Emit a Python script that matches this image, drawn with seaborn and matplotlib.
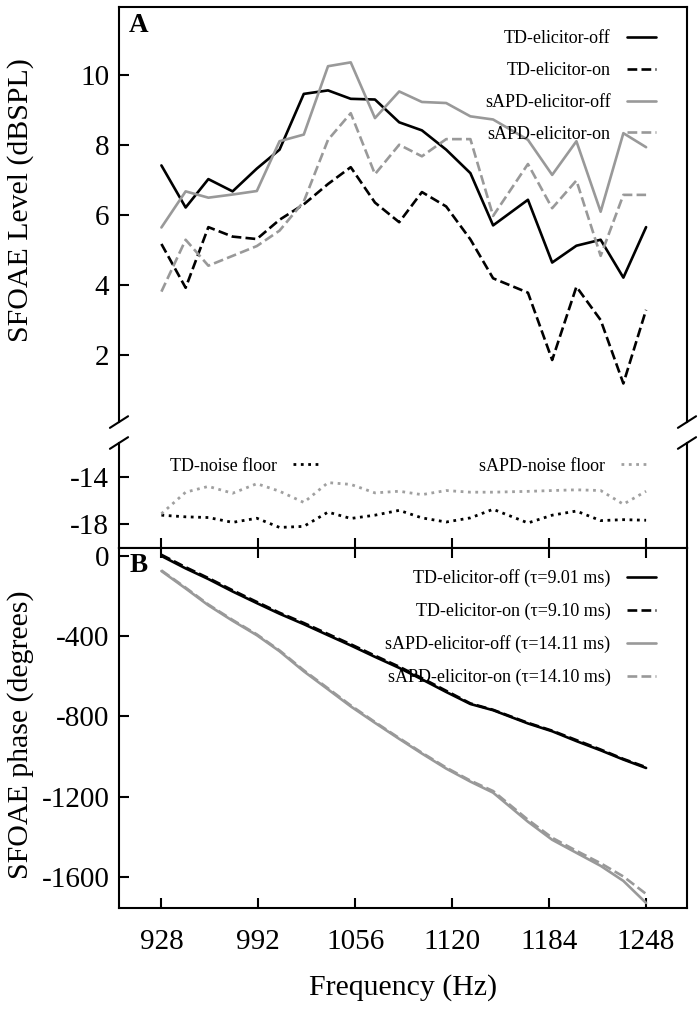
import numpy as np
import pandas as pd
import matplotlib
matplotlib.use('Agg')
import matplotlib.pyplot as plt
import seaborn as sns

# frequency of each measured point (Hz)
freq = [928, 944, 959, 975, 991, 1006, 1022, 1038, 1053, 1069, 1085,
        1100, 1116, 1132, 1147, 1170, 1186, 1202, 1218, 1233, 1248]

# panel A: SFOAE level (dB SPL)
td_off = [7.41, 6.21, 7.02, 6.67, 7.32, 7.86, 9.45, 9.55, 9.31, 9.29, 8.64,
          8.41, 7.86, 7.19, 5.70, 6.43, 4.64, 5.12, 5.29, 4.21, 5.65]
td_on = [5.17, 3.92, 5.65, 5.38, 5.31, 5.86, 6.30, 6.88, 7.36, 6.35, 5.79,
         6.65, 6.24, 5.30, 4.19, 3.78, 1.86, 3.95, 3.00, 1.19, 3.29]
sapd_off = [5.64, 6.67, 6.49, 6.58, 6.68, 8.10, 8.29, 10.24, 10.35, 8.76, 9.52,
            9.22, 9.19, 8.81, 8.72, 8.14, 7.14, 8.10, 6.09, 8.33, 7.93]
sapd_on = [3.81, 5.29, 4.55, 4.83, 5.11, 5.55, 6.38, 8.14, 8.90, 7.16, 8.00,
           7.67, 8.16, 8.16, 5.97, 7.45, 6.19, 6.98, 4.83, 6.57, 6.57]
td_noise = [-17.22, -17.36, -17.42, -17.83, -17.48, -18.26, -18.17, -16.96, -17.50, -17.22, -16.81,
            -17.45, -17.80, -17.45, -16.72, -17.88, -17.22, -16.87, -17.68, -17.60, -17.65]
sapd_noise = [-17.10, -15.27, -14.78, -15.36, -14.55, -15.19, -16.14, -14.46, -14.61, -15.33, -15.19,
              -15.48, -15.13, -15.27, -15.27, -15.20, -15.13, -15.07, -15.13, -16.29, -15.19]

# panel B: SFOAE phase (degrees)
td_off_ph = [0, -62, -115, -177, -235, -288, -340, -395, -446, -503, -558,
             -615, -678, -738, -769, -835, -874, -923, -969, -1015, -1057]
td_on_ph = [6, -56, -110, -171, -229, -283, -334, -389, -440, -497, -552,
            -609, -672, -735, -767, -832, -871, -918, -965, -1012, -1053]
sapd_off_ph = [-75, -162, -246, -323, -395, -475, -575, -665, -750, -832, -912,
               -985, -1060, -1125, -1180, -1325, -1415, -1480, -1545, -1620, -1730]
sapd_on_ph = [-72, -158, -242, -319, -391, -471, -570, -660, -745, -828, -908,
              -981, -1055, -1120, -1172, -1315, -1405, -1470, -1532, -1598, -1685]

xticks = [928, 992, 1056, 1120, 1184, 1248]

sns.set_style('ticks', {'axes.edgecolor': 'black', 'text.color': 'black',
                        'axes.labelcolor': 'black', 'xtick.color': 'black',
                        'ytick.color': 'black'})
plt.rcParams['font.family'] = ['Liberation Serif', 'DejaVu Serif']
plt.rcParams['axes.linewidth'] = 1.5
plt.rcParams['axes.unicode_minus'] = False

GRAY = '#999999'
LW = 1.9
TICK_FS = 21
LABEL_FS = 21.5
LEG_FS = 13

fig = plt.figure(figsize=(7, 10.17), dpi=100)
left, width = 0.170, 0.8114
ax_up = fig.add_axes([left, 0.585, width, 0.4085])
ax_lo = fig.add_axes([left, 0.4612, width, 0.1032])
ax_b = fig.add_axes([left, 0.1072, width, 0.354])

# ---- panel A, upper part
sns.lineplot(x=freq, y=td_off, ax=ax_up, color='black', lw=LW, label='TD-elicitor-off')
sns.lineplot(x=freq, y=td_on, ax=ax_up, color='black', lw=LW, ls='--', label='TD-elicitor-on')
sns.lineplot(x=freq, y=sapd_off, ax=ax_up, color=GRAY, lw=LW, label='sAPD-elicitor-off')
sns.lineplot(x=freq, y=sapd_on, ax=ax_up, color=GRAY, lw=LW, ls='--', label='sAPD-elicitor-on')
ax_up.set_ylim(0.09, 11.94)
ax_up.set_yticks([2, 4, 6, 8, 10])
ax_up.set_xticks([])
ax_up.spines['bottom'].set_visible(False)
ax_up.legend(loc='upper right', bbox_to_anchor=(0.945, 0.943), frameon=False,
             markerfirst=False, fontsize=LEG_FS, handlelength=1.6,
             handletextpad=0.9, labelspacing=0.82, borderaxespad=0, borderpad=0)
ax_up.text(0.018, 0.985, 'A', transform=ax_up.transAxes, fontsize=19.5,
           fontweight='bold', va='top', ha='left')
ax_up.set_ylabel('SFOAE Level (dBSPL)', fontsize=LABEL_FS)
ax_up.yaxis.set_label_coords(-0.15, 0.535)

# ---- panel A, lower part (noise floor)
sns.lineplot(x=freq, y=td_noise, ax=ax_lo, color='black', lw=2.0, ls=':', label='TD-noise floor')
sns.lineplot(x=freq, y=sapd_noise, ax=ax_lo, color='#a0a0a0', lw=2.0, ls=':', label='sAPD-noise floor')
ax_lo.set_ylim(-20.0, -11.1)
ax_lo.set_yticks([-14, -18])
ax_lo.spines['top'].set_visible(False)
h, l = ax_lo.get_legend_handles_labels()
leg1 = ax_lo.legend([h[0]], [l[0]], loc='upper left', bbox_to_anchor=(0.09, 0.86),
                    frameon=False, markerfirst=False, fontsize=LEG_FS, handlelength=1.6,
                    handletextpad=0.9, borderaxespad=0, borderpad=0)
ax_lo.add_artist(leg1)
ax_lo.legend([h[1]], [l[1]], loc='upper right', bbox_to_anchor=(0.935, 0.86),
             frameon=False, markerfirst=False, fontsize=LEG_FS, handlelength=1.6,
             handletextpad=0.9, borderaxespad=0, borderpad=0)

# broken axis marks
for ax, yb in [(ax_up, 0.0), (ax_lo, 1.0)]:
    dx = 0.016
    dy = 0.014 * (0.4085 / ax.get_position().height)
    for xb in (0.0, 1.0):
        ax.plot([xb - dx, xb + dx], [yb - dy, yb + dy], transform=ax.transAxes,
                color='black', lw=1.5, clip_on=False)

# ---- panel B, phase
sns.lineplot(x=freq, y=td_off_ph, ax=ax_b, color='black', lw=LW, label='TD-elicitor-off (\u03c4=9.01 ms)')
sns.lineplot(x=freq, y=td_on_ph, ax=ax_b, color='black', lw=LW, ls='--', label='TD-elicitor-on (\u03c4=9.10 ms)')
sns.lineplot(x=freq, y=sapd_off_ph, ax=ax_b, color=GRAY, lw=LW, label='sAPD-elicitor-off (\u03c4=14.11 ms)')
sns.lineplot(x=freq, y=sapd_on_ph, ax=ax_b, color=GRAY, lw=LW, ls='--', label='sAPD-elicitor-on (\u03c4=14.10 ms)')
ax_b.set_ylim(-1755, 40)
ax_b.set_yticks([0, -400, -800, -1200, -1600])
ax_b.legend(loc='upper right', bbox_to_anchor=(0.945, 0.94), frameon=False,
            markerfirst=False, fontsize=LEG_FS, handlelength=1.6,
            handletextpad=0.9, labelspacing=0.85, borderaxespad=0, borderpad=0)
ax_b.text(0.018, 0.985, 'B', transform=ax_b.transAxes, fontsize=19.5,
          fontweight='bold', va='top', ha='left')
ax_b.set_ylabel('SFOAE phase (degrees)', fontsize=LABEL_FS)
ax_b.yaxis.set_label_coords(-0.15, 0.48)
ax_b.set_xlabel('Frequency (Hz)', fontsize=LABEL_FS, labelpad=14)

for ax in (ax_up, ax_lo, ax_b):
    ax.set_xlim(900, 1275)
    ax.tick_params(axis='both', direction='in', length=7, width=1.5,
                   labelsize=TICK_FS, right=False, colors='black')
    ax.tick_params(axis='y', pad=7)
ax_lo.set_xticks(xticks)
ax_lo.tick_params(axis='x', labelbottom=False)
ax_b.set_xticks(xticks)
ax_b.tick_params(axis='x', top=True, pad=15)

fig.savefig('out.png', dpi=100)
